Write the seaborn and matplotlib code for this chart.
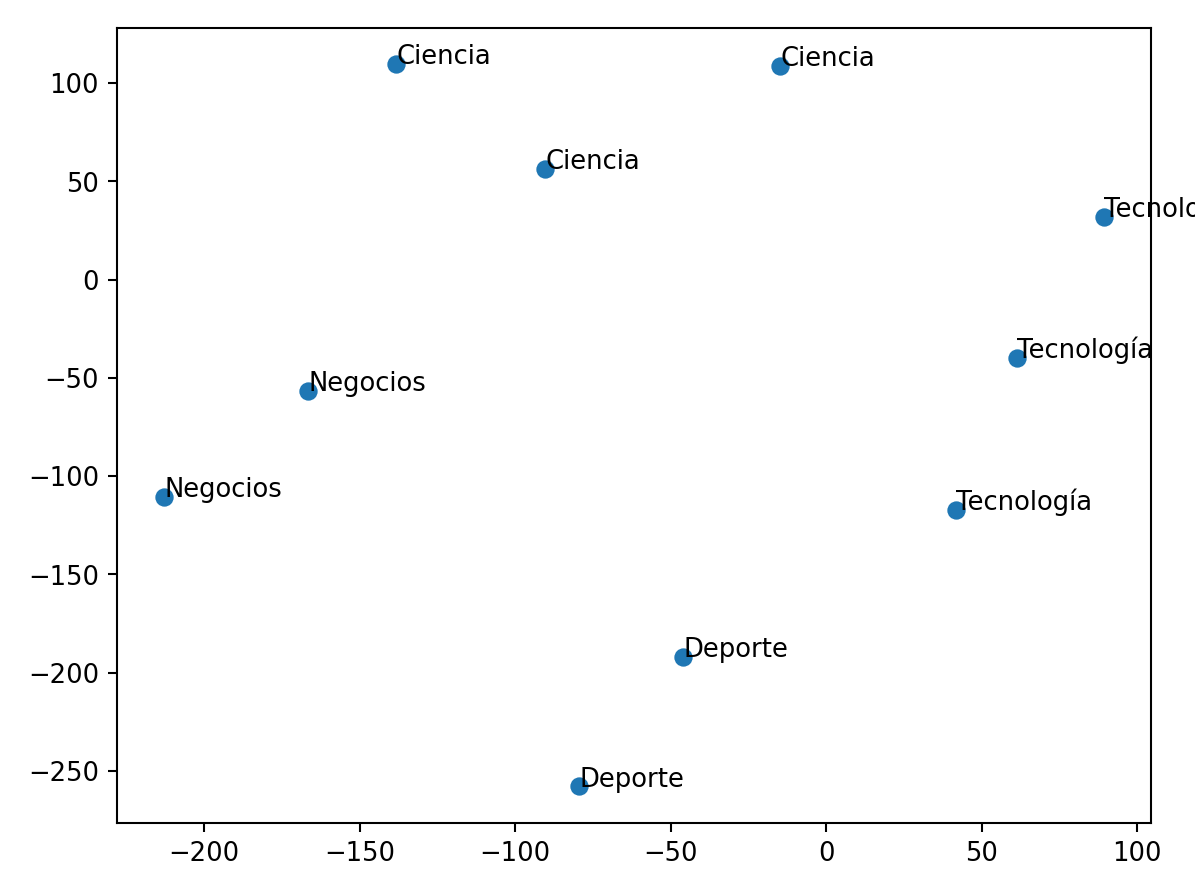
import matplotlib
matplotlib.use("Agg")
import matplotlib.pyplot as plt
import seaborn as sns
import pandas as pd

# puntos
labels = ["Ciencia", "Ciencia", "Ciencia",
          "Tecnología", "Tecnología", "Tecnología",
          "Negocios", "Negocios", "Deporte", "Deporte"]
x_vals = [-138.3, -14.8, -90.4, 89.4, 61.4, 41.8, -166.6, -212.9, -46.0, -79.4]
y_vals = [109.9, 108.8, 56.5, 32.0, -39.7, -117.0, -56.5, -110.4, -191.8, -257.9]

df = pd.DataFrame({"x": x_vals, "y": y_vals, "label": labels})

DPI = 186.7
fig, ax = plt.subplots(figsize=(1195.4 / DPI, 896.2 / DPI), dpi=DPI)

sns.scatterplot(data=df, x="x", y="y", color="#1f77b4", s=50, linewidth=0, ax=ax)

# etiqueta junto a cada punto (la de la derecha queda cortada como en el original)
for _, row in df.iterrows():
    ax.annotate(row["label"], (row["x"], row["y"]), fontsize=10)

ax.set_xlabel("")
ax.set_ylabel("")

fig.subplots_adjust(left=0.098, right=0.963, top=0.969, bottom=0.082)
plt.savefig("out.png", dpi=DPI)
